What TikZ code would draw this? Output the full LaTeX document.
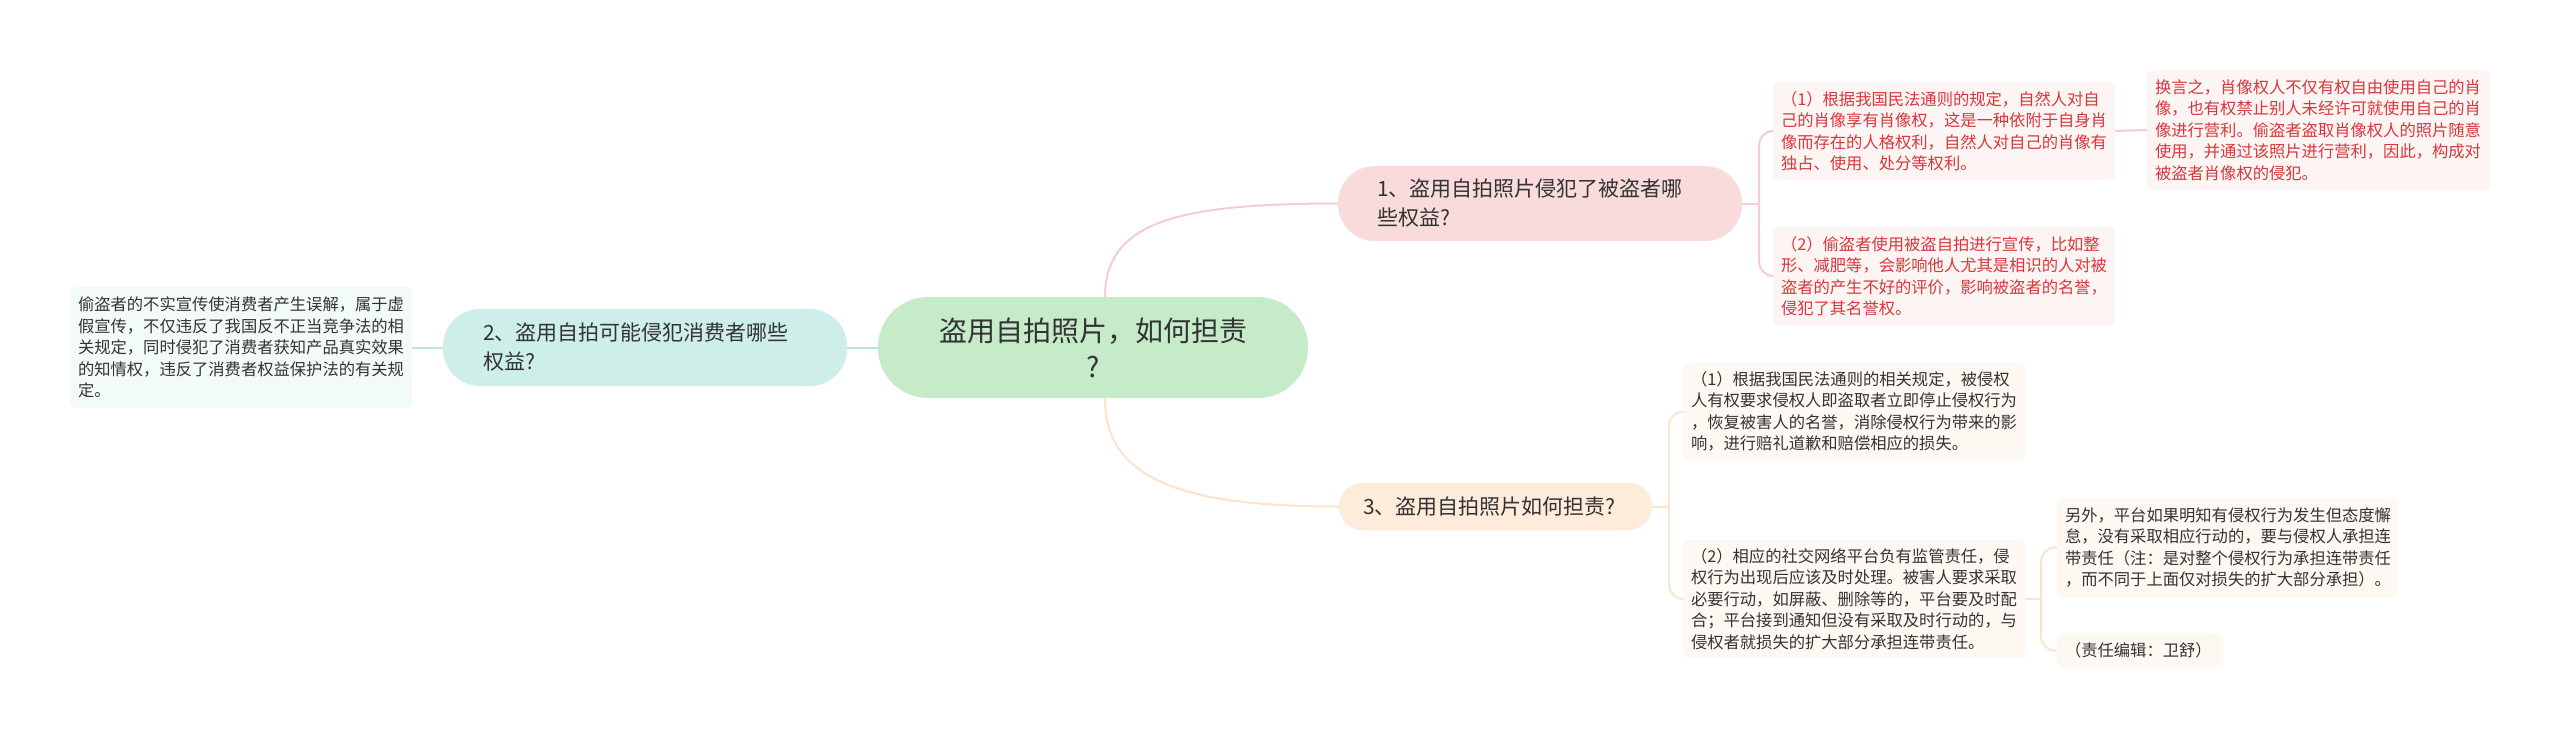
\documentclass[tikz,border=0pt]{standalone}
\usepackage{fontspec}
\setmainfont{Noto Sans CJK SC}
\definecolor{rootfill}{HTML}{C6EBC9}
\definecolor{onefill}{HTML}{FADBDB}
\definecolor{twofill}{HTML}{CEEFE9}
\definecolor{threefill}{HTML}{FDECD9}
\definecolor{oneleaf}{HTML}{FDF4F4}
\definecolor{twoleaf}{HTML}{F3FAFA}
\definecolor{threeleaf}{HTML}{FDF8F1}
\definecolor{onelink}{HTML}{F5CDCE}
\definecolor{twolink}{HTML}{B8E6DE}
\definecolor{threelink}{HTML}{FBE4CC}
\definecolor{redtext}{HTML}{D8373B}
\definecolor{darktext}{HTML}{333333}
\tikzset{
  x=1pt, y=-1pt,
  rootbox/.style={draw=none, fill=rootfill, rounded corners=50pt, align=center,
    text=darktext, font=\fontsize{28}{36}\selectfont, minimum width=430pt, minimum height=101pt, inner sep=0pt},
  mainbox/.style={draw=none, rounded corners=37pt, align=left, text=darktext,
    font=\fontsize{21}{29}\selectfont, inner ysep=0pt},
  leafbox/.style={draw=none, rounded corners=6pt, align=left,
    font=\fontsize{16.3}{21.5}\selectfont, inner xsep=8pt, inner ysep=0pt},
  link/.style={line width=2pt},
  bracket/.style={line width=2pt, rounded corners=14pt},
}
\begin{document}
\begin{tikzpicture}
\useasboundingbox[fill=white] (0,0) rectangle (2560,741);

% root
\node[rootbox] (root) at (1093,347.5) {盗用自拍照片，如何担责\\?};

% main branches
\node[mainbox, fill=onefill, text width=326pt, inner xsep=39pt, minimum height=75pt] (n1) at (1540,203.5)
  {1、盗用自拍照片侵犯了被盗者哪\\些权益?};
\node[mainbox, fill=twofill, text width=324pt, inner xsep=40pt, minimum height=77pt] (n2) at (645,347.5)
  {2、盗用自拍可能侵犯消费者哪些\\权益?};
\node[mainbox, fill=threefill, rounded corners=23pt, text width=265pt, inner xsep=24pt, minimum height=47pt] (n3) at (1495.5,506.5)
  {3、盗用自拍照片如何担责?};

% leaves of branch 1
\node[leafbox, fill=oneleaf, text=redtext, text width=326pt, minimum height=98pt] (n1a) at (1944,131)
  {（1）根据我国民法通则的规定，自然人对自\\己的肖像享有肖像权，这是一种依附于自身肖\\像而存在的人格权利，自然人对自己的肖像有\\独占、使用、处分等权利。};
\node[leafbox, fill=oneleaf, text=redtext, text width=327pt, minimum height=120pt] (n1aa) at (2318.5,130)
  {换言之，肖像权人不仅有权自由使用自己的肖\\像，也有权禁止别人未经许可就使用自己的肖\\像进行营利。偷盗者盗取肖像权人的照片随意\\使用，并通过该照片进行营利，因此，构成对\\被盗者肖像权的侵犯。};
\node[leafbox, fill=oneleaf, text=redtext, text width=326pt, minimum height=98pt] (n1b) at (1944,276)
  {（2）偷盗者使用被盗自拍进行宣传，比如整\\形、减肥等，会影响他人尤其是相识的人对被\\盗者的产生不好的评价，影响被盗者的名誉，\\侵犯了其名誉权。};

% leaf of branch 2
\node[leafbox, fill=twoleaf, text=darktext, text width=326pt, minimum height=121pt] (n2a) at (241,347.5)
  {偷盗者的不实宣传使消费者产生误解，属于虚\\假宣传，不仅违反了我国反不正当竞争法的相\\关规定，同时侵犯了消费者获知产品真实效果\\的知情权，违反了消费者权益保护法的有关规\\定。};

% leaves of branch 3
\node[leafbox, fill=threeleaf, text=darktext, text width=326pt, minimum height=97pt] (n3a) at (1854,411.5)
  {（1）根据我国民法通则的相关规定，被侵权\\人有权要求侵权人即盗取者立即停止侵权行为\\，恢复被害人的名誉，消除侵权行为带来的影\\响，进行赔礼道歉和赔偿相应的损失。};
\node[leafbox, fill=threeleaf, text=darktext, text width=326pt, minimum height=118pt] (n3b) at (1854,599)
  {（2）相应的社交网络平台负有监管责任，侵\\权行为出现后应该及时处理。被害人要求采取\\必要行动，如屏蔽、删除等的，平台要及时配\\合；平台接到通知但没有采取及时行动的，与\\侵权者就损失的扩大部分承担连带责任。};
\node[leafbox, fill=threeleaf, text=darktext, text width=325pt, minimum height=99pt] (n3ba) at (2227.5,547.5)
  {另外，平台如果明知有侵权行为发生但态度懈\\怠，没有采取相应行动的，要与侵权人承担连\\带责任（注：是对整个侵权行为承担连带责任\\，而不同于上面仅对损失的扩大部分承担）。};
\node[leafbox, fill=threeleaf, text=darktext, text width=150pt, minimum height=35pt] (n3bb) at (2140,650.5)
  {（责任编辑：卫舒）};

% connectors from root
\draw[link, onelink] ([xshift=12pt]root.north) .. controls +(0,-75) and +(-160,0) .. (n1.west);
\draw[link, threelink] ([xshift=12pt]root.south) .. controls +(0,80) and +(-160,0) .. (n3.west);
\draw[link, twolink] (root.west) -- (n2.east);
\draw[link, twolink] (n2.west) -- (n2a.east);

% branch 1 brackets
\draw[link, onelink] (n1.east) -- ++(17,0) coordinate (b1);
\draw[bracket, onelink] (b1) |- (n1a.west);
\draw[bracket, onelink] (b1) |- (n1b.west);
\draw[link, onelink] (n1a.east) -- (n1aa.west);

% branch 3 brackets
\draw[link, threelink] (n3.east) -- ++(17,0) coordinate (b3);
\draw[bracket, threelink] (b3) |- (n3a.west);
\draw[bracket, threelink] (b3) |- (n3b.west);
\draw[link, threelink] (n3b.east) -- ++(16,0) coordinate (b3b);
\draw[bracket, threelink] (b3b) |- (n3ba.west);
\draw[bracket, threelink] (b3b) |- (n3bb.west);
\end{tikzpicture}
\end{document}
